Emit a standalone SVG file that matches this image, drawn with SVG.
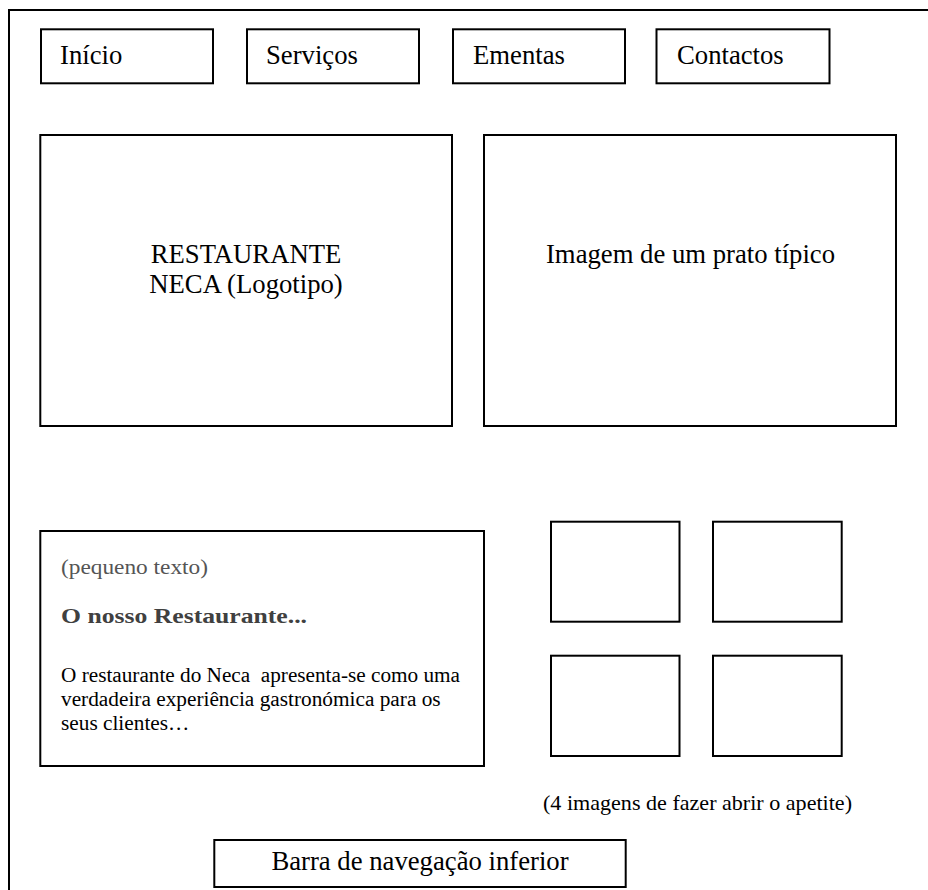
<svg xmlns="http://www.w3.org/2000/svg" width="928" height="890" viewBox="0 0 928 890">
<style>
  .box { fill: #ffffff; stroke: #000000; stroke-width: 2; }
  .frame { fill: none; stroke: #000000; stroke-width: 2; }
  .lbl { font-family: "Liberation Serif", "Times New Roman", serif; font-size: 26.7px; fill: #000000; }
  .mid { text-anchor: middle; }
  .body { font-family: "Liberation Serif", "Times New Roman", serif; font-size: 21.3px; fill: #000000; }
  .grey { font-family: "Liberation Serif", "Times New Roman", serif; font-size: 21px; fill: #555555; }
  .greyb { font-family: "Liberation Serif", "Times New Roman", serif; font-size: 21px; font-weight: bold; fill: #404040; }
  .cap { font-family: "Liberation Serif", "Times New Roman", serif; font-size: 21px; fill: #000000; }
</style>
<rect x="0" y="0" width="928" height="890" fill="#ffffff"/>
<g id="frame">
  <path class="frame" d="M9 890 V10 H928"/>
</g>
<g id="nav-inicio">
  <rect class="box" x="41" y="29.3" width="172" height="54"/>
  <text class="lbl" x="60" y="64">Início</text>
</g>
<g id="nav-servicos">
  <rect class="box" x="247" y="29.3" width="172" height="54"/>
  <text class="lbl" x="266" y="64">Serviços</text>
</g>
<g id="nav-ementas">
  <rect class="box" x="453" y="29.3" width="172" height="54"/>
  <text class="lbl" x="473" y="64">Ementas</text>
</g>
<g id="nav-contactos">
  <rect class="box" x="656.5" y="29.3" width="173" height="54"/>
  <text class="lbl" x="677" y="64">Contactos</text>
</g>
<g id="logo">
  <rect class="box" x="40.3" y="135" width="411.7" height="291"/>
  <text class="lbl mid" x="246" y="263">RESTAURANTE</text>
  <text class="lbl mid" x="246" y="293">NECA (Logotipo)</text>
</g>
<g id="prato">
  <rect class="box" x="484" y="135" width="412" height="291"/>
  <text class="lbl mid" x="690.5" y="263">Imagem de um prato típico</text>
</g>
<g id="texto">
  <rect class="box" x="40.3" y="531" width="443.7" height="235"/>
  <text class="grey" x="61" y="574" textLength="147" lengthAdjust="spacingAndGlyphs">(pequeno texto)</text>
  <text class="greyb" x="61" y="623" textLength="246" lengthAdjust="spacingAndGlyphs">O nosso Restaurante...</text>
  <text class="body" x="61" y="682" textLength="399" lengthAdjust="spacingAndGlyphs">O restaurante do Neca&#160; apresenta-se como uma</text>
  <text class="body" x="61" y="706">verdadeira experiência gastronómica para os</text>
  <text class="body" x="61" y="730">seus clientes…</text>
</g>
<g id="img1"><rect class="box" x="551" y="521.7" width="128.5" height="100"/></g>
<g id="img2"><rect class="box" x="713" y="521.7" width="128.7" height="100"/></g>
<g id="img3"><rect class="box" x="551" y="655.7" width="128.5" height="100.3"/></g>
<g id="img4"><rect class="box" x="713" y="655.7" width="128.7" height="100.3"/></g>
<g id="legenda">
  <text class="cap" x="543" y="810" textLength="309" lengthAdjust="spacingAndGlyphs">(4 imagens de fazer abrir o apetite)</text>
</g>
<g id="barra">
  <rect class="box" x="214.3" y="840" width="411.4" height="47"/>
  <text class="lbl mid" x="420" y="870">Barra de navegação inferior</text>
</g>
<g id="connectors"></g>
</svg>
